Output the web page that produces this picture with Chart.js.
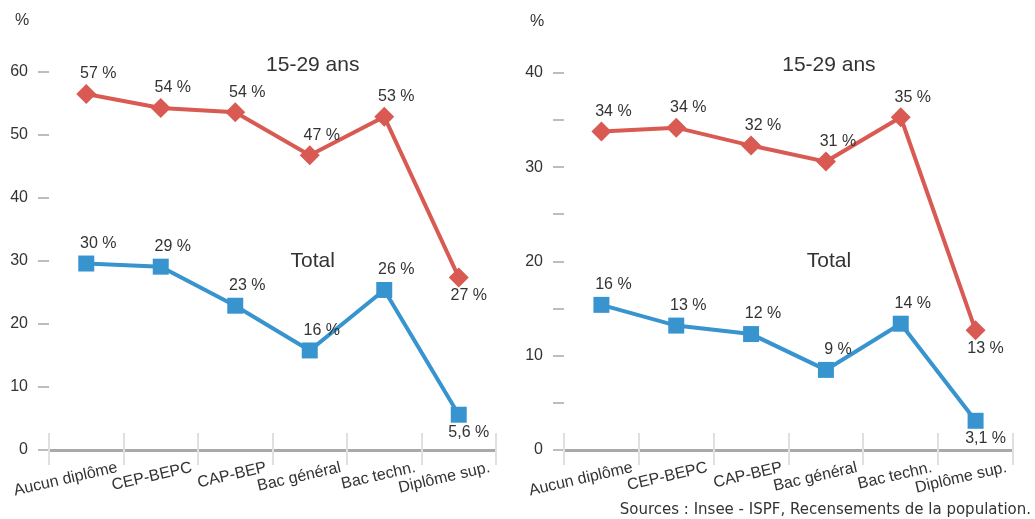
<!DOCTYPE html>
<html lang="fr">
<head>
<meta charset="utf-8">
<script src="https://cdn.jsdelivr.net/npm/chart.js@4.4.1/dist/chart.umd.min.js"></script>
<style>
  html, body { margin: 0; padding: 0; background: #fff; }
  #wrap { position: relative; width: 1035px; height: 519px; overflow: hidden; }
  canvas { position: absolute; top: 0; }
  #chartLeft { left: 0; }
  #chartRight { left: 515px; }
  #source { position: absolute; right: 4px; top: 500px; font: 15px 'DejaVu Sans', sans-serif; color: #333; white-space: nowrap; }
</style>
</head>
<body>
<div id="wrap">
  <canvas id="chartLeft" width="515" height="519"></canvas>
  <canvas id="chartRight" width="520" height="519"></canvas>
  <div id="source">Sources : Insee - ISPF, Recensements de la population.</div>
</div>
<script>
const categories = ['Aucun diplôme', 'CEP-BEPC', 'CAP-BEP', 'Bac général', 'Bac techn.', 'Diplôme sup.'];

// left chart
const leftYoung = [56.5, 54.3, 53.6, 46.8, 52.9, 27.4];
const leftYoungLabels = ['57 %', '54 %', '54 %', '47 %', '53 %', '27 %'];
const leftTotal = [29.6, 29.1, 22.9, 15.8, 25.4, 5.6];
const leftTotalLabels = ['30 %', '29 %', '23 %', '16 %', '26 %', '5,6 %'];

// right chart
const rightYoung = [33.8, 34.2, 32.3, 30.6, 35.3, 12.7];
const rightYoungLabels = ['34 %', '34 %', '32 %', '31 %', '35 %', '13 %'];
const rightTotal = [15.4, 13.2, 12.3, 8.5, 13.4, 3.1];
const rightTotalLabels = ['16 %', '13 %', '12 %', '9 %', '14 %', '3,1 %'];

const RED = '#d95a53';
const BLUE = '#3894ce';
const TEXT = '#333';

Chart.defaults.font.family = "'Liberation Sans', Arial, sans-serif";
Chart.defaults.color = TEXT;

// separators, data labels and free texts
const decorPlugin = {
  id: 'decor',
  beforeDatasetsDraw(chart) {
    const x = chart.scales.x, ctx = chart.ctx, base = chart.chartArea.bottom;
    const half = (x.getPixelForValue(1) - x.getPixelForValue(0)) / 2;
    ctx.save();
    ctx.strokeStyle = '#e0e0e0';
    ctx.lineWidth = 2;
    for (let i = 0; i <= categories.length; i++) {
      const px = Math.round(x.getPixelForValue(i) - half);
      ctx.beginPath();
      ctx.moveTo(px, base - 17);
      ctx.lineTo(px, base + 15);
      ctx.stroke();
    }
    ctx.restore();
  },
  afterDatasetsDraw(chart, args, opts) {
    const ctx = chart.ctx, area = chart.chartArea;
    const x = chart.scales.x, y = chart.scales.y;
    ctx.save();
    ctx.fillStyle = TEXT;
    ctx.textAlign = 'center';
    ctx.textBaseline = 'middle';
    ctx.font = "16px 'Liberation Sans', Arial, sans-serif";
    chart.data.datasets.forEach((ds, d) => {
      const meta = chart.getDatasetMeta(d);
      meta.data.forEach((pt, i) => {
        const last = i === meta.data.length - 1;
        ctx.fillText(ds.pointLabels[i], pt.x + (last ? 10 : 12), pt.y + (last ? 18 : -20));
      });
    });
    ctx.fillText('%', area.left - 27, area.top - 51);
    ctx.font = "21px 'Liberation Sans', Arial, sans-serif";
    opts.notes.forEach(n => {
      ctx.fillText(n.text, x.getPixelForValue(n.x) + 3, y.getPixelForValue(n.y));
    });
    ctx.restore();
  }
};

function makeChart(id, young, youngLabels, total, totalLabels, yMax, yStep, padRight, padTop, notes) {
  return new Chart(document.getElementById(id), {
    type: 'line',
    data: {
      labels: categories,
      datasets: [
        {
          data: young, pointLabels: youngLabels,
          borderColor: RED, backgroundColor: RED, borderWidth: 4,
          pointStyle: 'rectRot', pointRadius: 10, pointHoverRadius: 10,
          pointBorderWidth: 0, tension: 0, clip: false
        },
        {
          data: total, pointLabels: totalLabels,
          borderColor: BLUE, backgroundColor: BLUE, borderWidth: 4,
          pointStyle: 'rect', pointRadius: 11.3, pointHoverRadius: 11.3,
          pointBorderWidth: 0, tension: 0, clip: false
        }
      ]
    },
    options: {
      responsive: false,
      animation: false,
      layout: { padding: { left: 0, right: padRight, top: padTop, bottom: 0 } },
      plugins: {
        legend: { display: false },
        tooltip: { enabled: false },
        decor: { notes: notes }
      },
      scales: {
        x: {
          offset: true,
          grid: { display: false },
          border: { display: true, color: '#a9a9a9', width: 3 },
          ticks: {
            autoSkip: false, minRotation: 13, maxRotation: 13,
            labelOffset: 31, padding: 0,
            font: { size: 16 }, color: TEXT
          },
          afterFit(s) { s.height = 69; s.paddingLeft = 0; s.paddingRight = 0; }
        },
        y: {
          min: 0, max: yMax,
          grid: { drawOnChartArea: false, drawTicks: true, tickLength: 11, color: '#bdbdbd', lineWidth: 2 },
          border: { display: false },
          ticks: {
            stepSize: yStep, padding: 10, font: { size: 16 }, color: TEXT,
            callback: v => (v % 10 === 0 ? v : '')
          },
          afterFit(s) { s.width = 49; s.paddingTop = 0; s.paddingBottom = 0; }
        }
      }
    },
    plugins: [decorPlugin]
  });
}

makeChart('chartLeft', leftYoung, leftYoungLabels, leftTotal, leftTotalLabels, 60, 10, 19, 72,
  [{ text: '15-29 ans', x: 3, y: 61.1 }, { text: 'Total', x: 3, y: 30 }]);
makeChart('chartRight', rightYoung, rightYoungLabels, rightTotal, rightTotalLabels, 40, 5, 22, 73,
  [{ text: '15-29 ans', x: 3, y: 40.85 }, { text: 'Total', x: 3, y: 20.05 }]);
</script>
</body>
</html>
